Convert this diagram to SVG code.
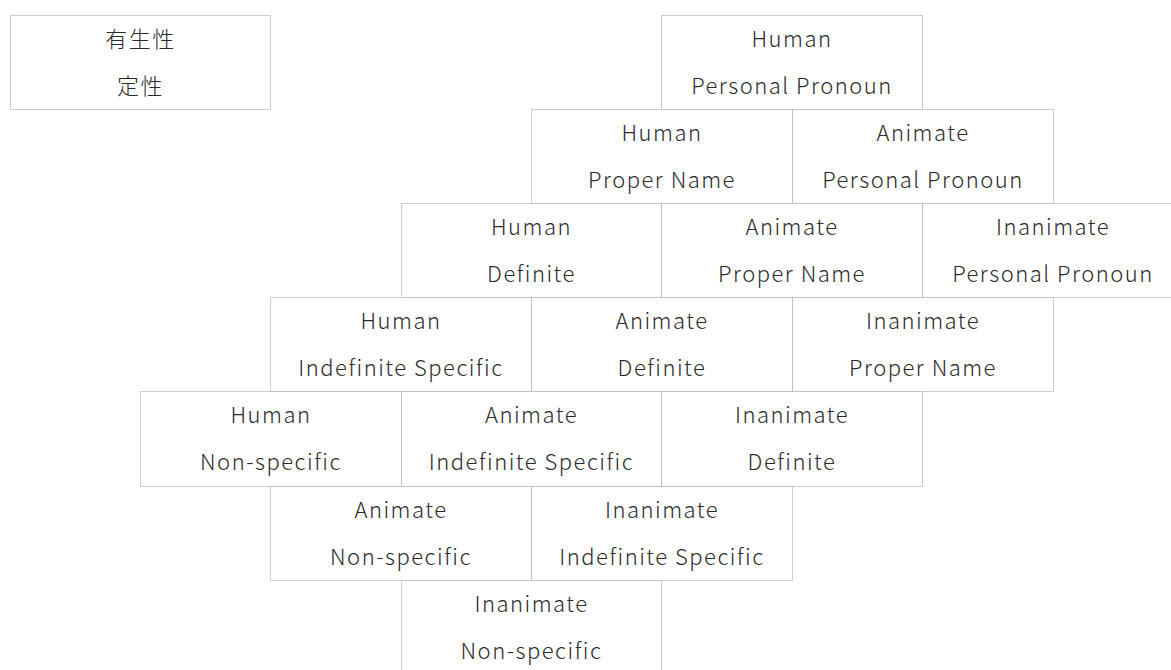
<svg xmlns="http://www.w3.org/2000/svg" width="1171" height="670" viewBox="0 0 1171 670">
  <style>
    .box { fill: #ffffff; stroke: #9a9a9a; stroke-width: 1; stroke-dasharray: 1 1; }
    .lbl { font-family: "Noto Sans CJK JP", "Noto Sans", sans-serif; font-size: 22px; font-weight: 300; fill: #2a2a2a; text-anchor: middle; letter-spacing: 1.5px; }
  </style>
  <rect width="1171" height="670" fill="#ffffff"/>

  <!-- legend -->
  <g id="legend">
    <rect class="box" x="10.5" y="15.5" width="260" height="94"/>
    <text class="lbl" x="140.5" y="47">有生性</text>
    <text class="lbl" x="140.5" y="94">定性</text>
  </g>

  <!-- row 1 -->
  <g id="human-pronoun">
    <rect class="box" x="661.5" y="15.5" width="261" height="94"/>
    <text class="lbl" x="792" y="47">Human</text>
    <text class="lbl" x="792" y="94">Personal Pronoun</text>
  </g>

  <!-- row 2 -->
  <g id="human-name">
    <rect class="box" x="531.5" y="109.5" width="261" height="94"/>
    <text class="lbl" x="662" y="141">Human</text>
    <text class="lbl" x="662" y="188">Proper Name</text>
  </g>
  <g id="animate-pronoun">
    <rect class="box" x="792.5" y="109.5" width="261" height="94"/>
    <text class="lbl" x="923" y="141">Animate</text>
    <text class="lbl" x="923" y="188">Personal Pronoun</text>
  </g>

  <!-- row 3 -->
  <g id="human-definite">
    <rect class="box" x="401.5" y="203.5" width="260" height="94"/>
    <text class="lbl" x="531.5" y="235">Human</text>
    <text class="lbl" x="531.5" y="282">Definite</text>
  </g>
  <g id="animate-name">
    <rect class="box" x="661.5" y="203.5" width="261" height="94"/>
    <text class="lbl" x="792" y="235">Animate</text>
    <text class="lbl" x="792" y="282">Proper Name</text>
  </g>
  <g id="inanimate-pronoun">
    <rect class="box" x="922.5" y="203.5" width="261" height="94"/>
    <text class="lbl" x="1053" y="235">Inanimate</text>
    <text class="lbl" x="1053" y="282">Personal Pronoun</text>
  </g>

  <!-- row 4 -->
  <g id="human-indefinite">
    <rect class="box" x="270.5" y="297.5" width="261" height="94"/>
    <text class="lbl" x="401" y="329">Human</text>
    <text class="lbl" x="401" y="376">Indefinite Specific</text>
  </g>
  <g id="animate-definite">
    <rect class="box" x="531.5" y="297.5" width="261" height="94"/>
    <text class="lbl" x="662" y="329">Animate</text>
    <text class="lbl" x="662" y="376">Definite</text>
  </g>
  <g id="inanimate-name">
    <rect class="box" x="792.5" y="297.5" width="261" height="94"/>
    <text class="lbl" x="923" y="329">Inanimate</text>
    <text class="lbl" x="923" y="376">Proper Name</text>
  </g>

  <!-- row 5 -->
  <g id="human-nonspecific">
    <rect class="box" x="140.5" y="391.5" width="261" height="95"/>
    <text class="lbl" x="271" y="423">Human</text>
    <text class="lbl" x="271" y="470">Non-specific</text>
  </g>
  <g id="animate-indefinite">
    <rect class="box" x="401.5" y="391.5" width="260" height="95"/>
    <text class="lbl" x="531.5" y="423">Animate</text>
    <text class="lbl" x="531.5" y="470">Indefinite Specific</text>
  </g>
  <g id="inanimate-definite">
    <rect class="box" x="661.5" y="391.5" width="261" height="95"/>
    <text class="lbl" x="792" y="423">Inanimate</text>
    <text class="lbl" x="792" y="470">Definite</text>
  </g>

  <!-- row 6 -->
  <g id="animate-nonspecific">
    <rect class="box" x="270.5" y="486.5" width="261" height="94"/>
    <text class="lbl" x="401" y="518">Animate</text>
    <text class="lbl" x="401" y="565">Non-specific</text>
  </g>
  <g id="inanimate-indefinite">
    <rect class="box" x="531.5" y="486.5" width="261" height="94"/>
    <text class="lbl" x="662" y="518">Inanimate</text>
    <text class="lbl" x="662" y="565">Indefinite Specific</text>
  </g>

  <!-- row 7 -->
  <g id="inanimate-nonspecific">
    <rect class="box" x="401.5" y="580.5" width="260" height="94"/>
    <text class="lbl" x="531.5" y="612">Inanimate</text>
    <text class="lbl" x="531.5" y="659">Non-specific</text>
  </g>

  <g id="connectors"/>
</svg>
